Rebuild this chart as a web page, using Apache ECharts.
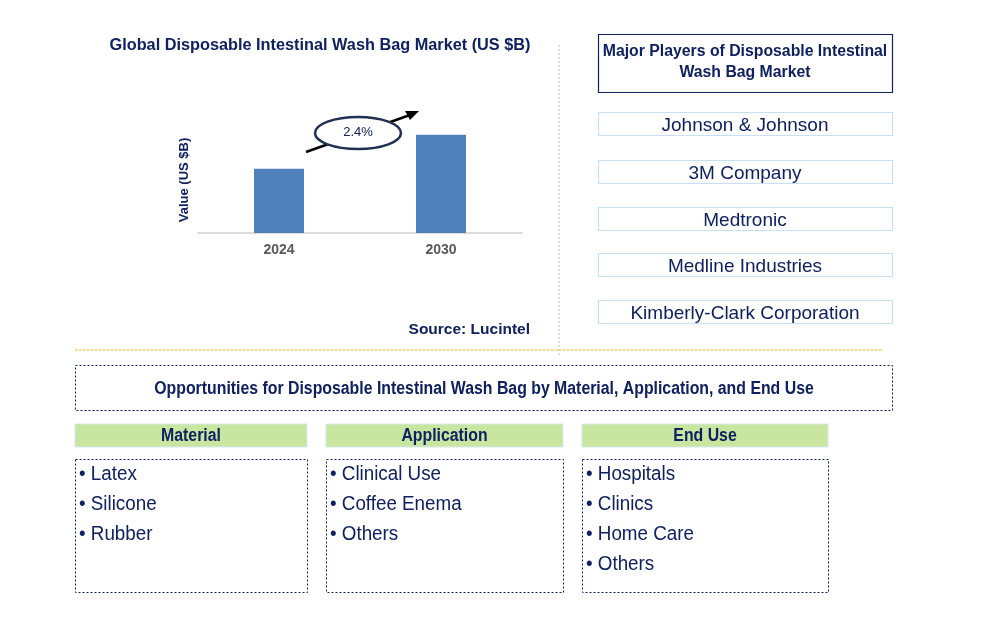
<!DOCTYPE html>
<html><head><meta charset="utf-8">
<script src="https://cdn.jsdelivr.net/npm/echarts@6/dist/echarts.min.js"></script>
<style>html,body{margin:0;padding:0;background:#fff}#c{width:996px;height:633px}</style>
</head><body><div id="c"></div>
<script>
const years = ['2024', '2030'];
const marketValues = [1.96, 3.0];
const cagrLabel = '2.4%';
const players = ['Johnson & Johnson', '3M Company', 'Medtronic', 'Medline Industries', 'Kimberly-Clark Corporation'];
const segmentTitles = ['Material', 'Application', 'End Use'];
const materialItems = ['Latex', 'Silicone', 'Rubber'];
const applicationItems = ['Clinical Use', 'Coffee Enema', 'Others'];
const endUseItems = ['Hospitals', 'Clinics', 'Home Care', 'Others'];

const navy = '#0f2160';
const sans = '"Liberation Sans", Arial, sans-serif';

const chart = echarts.init(document.getElementById('c'));
const g = [];

// dividers
g.push({type:'line', shape:{x1:559,y1:45,x2:559,y2:356}, style:{stroke:'#b8b8b8', lineWidth:1, lineDash:[2,2]}});
g.push({type:'line', shape:{x1:75,y1:350,x2:883,y2:350}, style:{stroke:'#f2c232', lineWidth:1, lineDash:[3,1]}});

// chart texts
g.push({type:'text', x:320, y:46, style:{text:'Global Disposable Intestinal Wash Bag Market (US $B)', font:'bold 16.3px '+sans, fill:navy, textAlign:'center', textVerticalAlign:'middle'}});
g.push({type:'text', x:184, y:180, rotation:Math.PI/2, style:{text:'Value (US $B)', font:'bold 13px '+sans, fill:navy, textAlign:'center', textVerticalAlign:'middle'}});
g.push({type:'text', x:530, y:330, style:{text:'Source: Lucintel', font:'bold 15.5px '+sans, fill:navy, textAlign:'right', textVerticalAlign:'middle'}});

// arrow + ellipse
g.push({type:'line', z:10, shape:{x1:306,y1:152,x2:410,y2:115}, style:{stroke:'#000', lineWidth:2.5}});
g.push({type:'polygon', z:10, shape:{points:[[419,111],[405,111],[410,120]]}, style:{fill:'#000'}});
g.push({type:'ellipse', z:11, shape:{cx:358,cy:133,rx:43,ry:16}, style:{fill:'#fff', stroke:'#1f3050', lineWidth:2.5}});
g.push({type:'text', z:12, x:358, y:132, style:{text:cagrLabel, font:'13px '+sans, fill:navy, textAlign:'center', textVerticalAlign:'middle'}});

// players panel
g.push({type:'rect', shape:{x:598.5,y:34.5,width:294,height:58}, style:{fill:'#fff', stroke:navy, lineWidth:1.2}});
g.push({type:'text', x:745, y:52, style:{text:'Major Players of Disposable Intestinal', font:'bold 15.8px '+sans, fill:navy, textAlign:'center', textVerticalAlign:'middle'}});
g.push({type:'text', x:745, y:73, style:{text:'Wash Bag Market', font:'bold 15.8px '+sans, fill:navy, textAlign:'center', textVerticalAlign:'middle'}});
const playerY = [112, 160, 207, 253, 300];
players.forEach((p,i)=>{
  g.push({type:'rect', shape:{x:598.5,y:playerY[i]+0.5,width:294,height:23}, style:{fill:'#fff', stroke:'#c6e2f2', lineWidth:1.2}});
  g.push({type:'text', x:745, y:playerY[i]+14, style:{text:p, font:'19px '+sans, fill:navy, textAlign:'center', textVerticalAlign:'middle'}});
});

// opportunities
g.push({type:'rect', shape:{x:75.5,y:365.5,width:817,height:45}, style:{fill:'#fff', stroke:navy, lineWidth:1, lineDash:[2,2]}});
g.push({type:'text', x:484, y:389, scaleX:0.88, style:{text:'Opportunities for Disposable Intestinal Wash Bag by Material, Application, and End Use', font:'bold 18px '+sans, fill:navy, textAlign:'center', textVerticalAlign:'middle'}});

const colX = [75, 326, 582];
const colW = [232, 237, 246];
const lists = [materialItems, applicationItems, endUseItems];
segmentTitles.forEach((t,i)=>{
  g.push({type:'rect', shape:{x:colX[i],y:424,width:colW[i],height:23}, style:{fill:'#c8e6a0', stroke:'#d6e8f0', lineWidth:1}});
  g.push({type:'text', x:colX[i]+colW[i]/2, y:436, scaleX:0.88, style:{text:t, font:'bold 18px '+sans, fill:navy, textAlign:'center', textVerticalAlign:'middle'}});
  g.push({type:'rect', shape:{x:colX[i]+0.5,y:459.5,width:colW[i],height:133}, style:{fill:'#fff', stroke:navy, lineWidth:1, lineDash:[2,2]}});
  lists[i].forEach((item,j)=>{
    g.push({type:'text', x:colX[i]+4, y:474+30*j, scaleX:0.94, style:{text:'\u2022 '+item, font:'20px '+sans, fill:navy, textAlign:'left', textVerticalAlign:'middle'}});
  });
});

chart.setOption({
  animation:false,
  grid:{left:198, right:996-522, top:102, bottom:633-233},
  xAxis:{type:'category', data:years, axisTick:{show:false},
    axisLine:{lineStyle:{color:'#d0d0d0', width:1.5}},
    axisLabel:{color:'#595959', fontWeight:'bold', fontSize:14, fontFamily:sans, margin:10}},
  yAxis:{type:'value', min:0, max:4, show:false, splitLine:{show:false}},
  series:[{type:'bar', data:marketValues, barWidth:50, itemStyle:{color:'#4f81bd'}}],
  graphic:g
});
</script></body></html>
